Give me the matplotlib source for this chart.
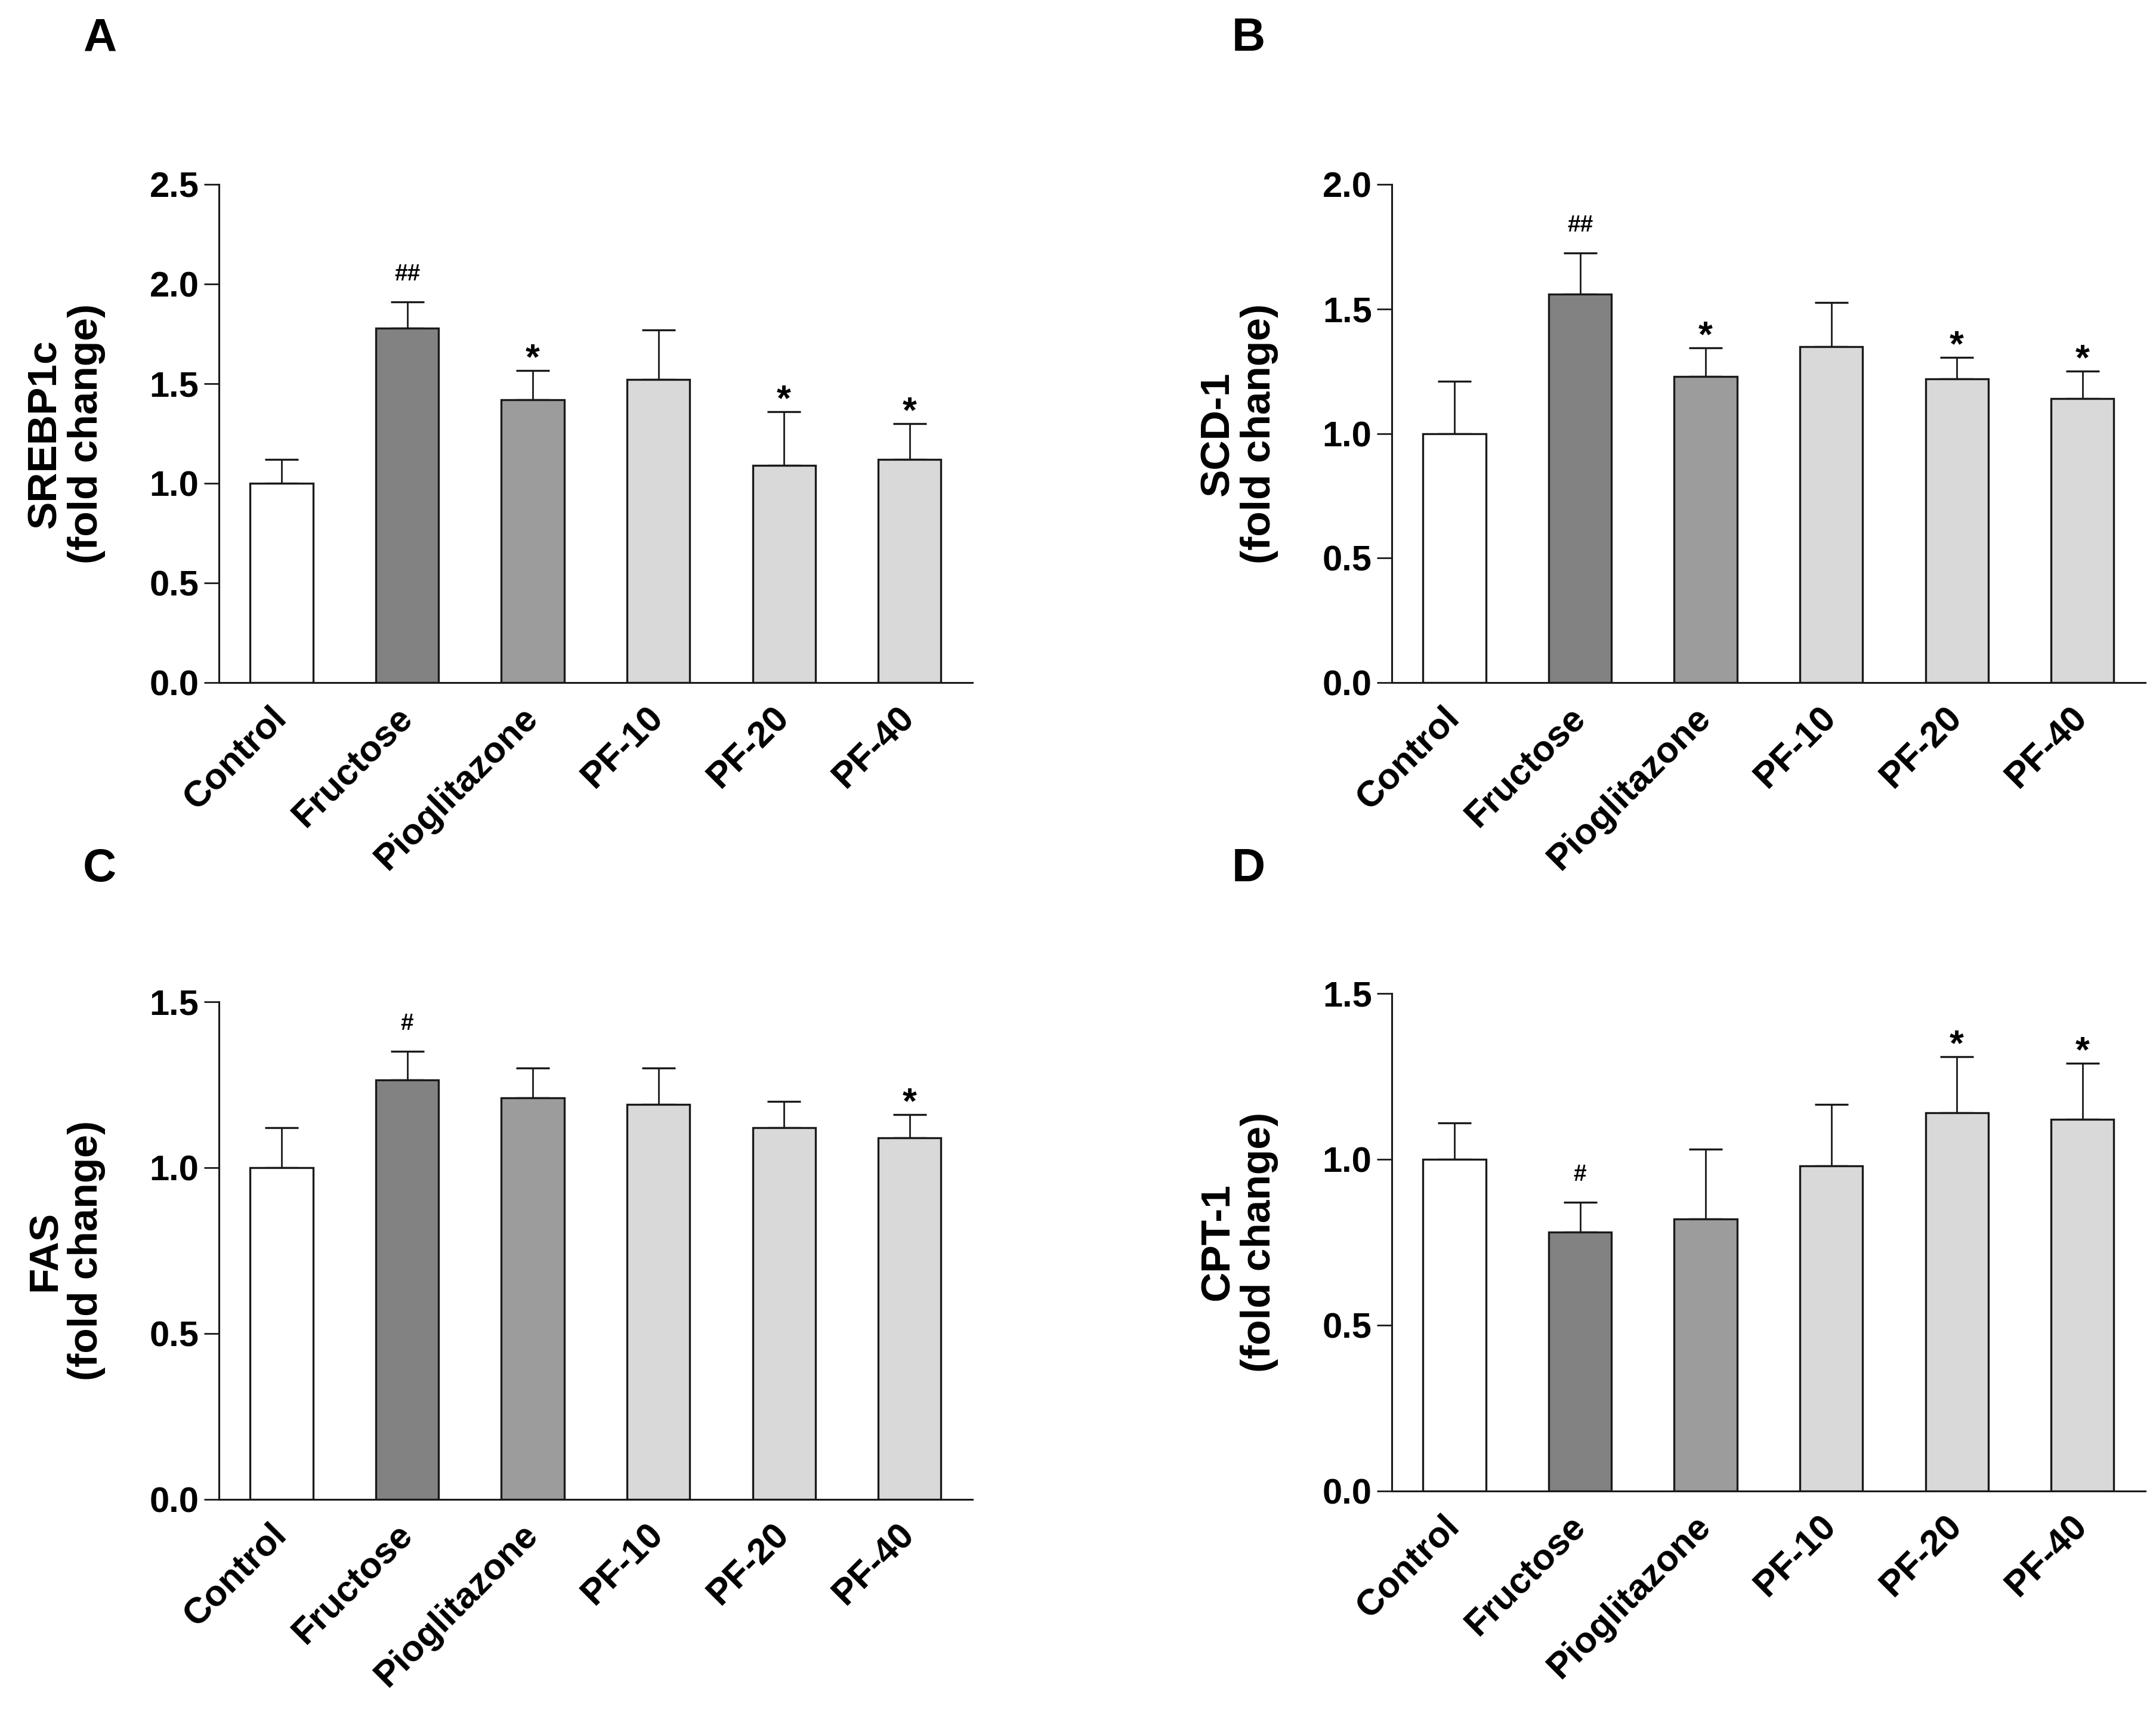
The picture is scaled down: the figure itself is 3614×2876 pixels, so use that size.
import numpy as np
import matplotlib
matplotlib.use('Agg')
import matplotlib.pyplot as plt
from matplotlib.transforms import ScaledTranslation

plt.rcParams['font.family'] = ['Liberation Sans', 'DejaVu Sans']
plt.rcParams['font.weight'] = 'bold'

groups = ['Control', 'Fructose', 'Pioglitazone', 'PF-10', 'PF-20', 'PF-40']
bar_colors = ['#ffffff', '#828282', '#9b9c9b', '#d9d9d9', '#d9d9d9', '#d9d9d9']

# mean and upper end of error bar
srebp_mean = [1.00, 1.78, 1.42, 1.52, 1.09, 1.12]
srebp_top = [1.12, 1.91, 1.565, 1.77, 1.36, 1.30]
srebp_marks = ['', '##', '*', '', '*', '*']

scd_mean = [1.00, 1.56, 1.23, 1.35, 1.22, 1.14]
scd_top = [1.21, 1.725, 1.345, 1.525, 1.305, 1.25]
scd_marks = ['', '##', '*', '', '*', '*']

fas_mean = [1.00, 1.265, 1.21, 1.19, 1.12, 1.09]
fas_top = [1.12, 1.35, 1.30, 1.30, 1.20, 1.16]
fas_marks = ['', '#', '', '', '', '*']

cpt_mean = [1.00, 0.78, 0.82, 0.98, 1.14, 1.12]
cpt_top = [1.11, 0.87, 1.03, 1.165, 1.31, 1.29]
cpt_marks = ['', '#', '', '', '*', '*']

panels = [
    ('A', 'SREBP1c', srebp_mean, srebp_top, srebp_marks, 2.5,
     [0.1015, 0.6022, 0.3495, 0.2903], (0.0462, 0.9774)),
    ('B', 'SCD-1', scd_mean, scd_top, scd_marks, 2.0,
     [0.6455, 0.6022, 0.3495, 0.2903], (0.579, 0.9774)),
    ('C', 'FAS', fas_mean, fas_top, fas_marks, 1.5,
     [0.1015, 0.1262, 0.3495, 0.2900], (0.0462, 0.4937)),
    ('D', 'CPT-1', cpt_mean, cpt_top, cpt_marks, 1.5,
     [0.6455, 0.1311, 0.3495, 0.2900], (0.579, 0.4937)),
]

fig = plt.figure(figsize=(36.14, 28.76), dpi=100)

for letter, gene, mean, top, marks, ymax, rect, lpos in panels:
    ax = fig.add_axes(rect)
    x = np.arange(len(groups))
    mean = np.array(mean)
    err = np.array(top) - mean
    ax.bar(x, mean, width=0.5, color=bar_colors, edgecolor='#1a1a1a',
           linewidth=2.4, zorder=2)
    ax.errorbar(x, mean, yerr=[np.zeros_like(err), err], fmt='none',
                ecolor='#1a1a1a', elinewidth=2.0, capsize=20, capthick=2.4,
                zorder=1)
    for xi, t, m in zip(x, top, marks):
        if m == '*':
            ax.annotate(m, (xi, t), xytext=(0, 2), textcoords='offset points',
                        ha='center', va='baseline', fontsize=44,
                        fontweight='bold')
        elif m:
            ax.annotate(m, (xi, t), xytext=(0, 26), textcoords='offset points',
                        ha='center', va='baseline', fontsize=28,
                        fontweight='bold')

    ticks = np.arange(0, ymax + 0.01, 0.5)
    ax.set_xlim(-0.5, 5.5)
    ax.set_ylim(0, ymax)
    ax.set_yticks(ticks)
    ax.set_yticklabels(['%.1f' % v for v in ticks])
    ax.set_xticks(x)
    ax.set_xticklabels(groups, rotation=45, ha='right', va='center',
                       rotation_mode='anchor', fontsize=44, fontweight='bold')
    for lab in ax.get_xticklabels():
        lab.set_transform(lab.get_transform() +
                          ScaledTranslation(0.08, 0, fig.dpi_scale_trans))
    ax.tick_params(axis='x', length=0, pad=36)
    ax.tick_params(axis='y', length=18, width=2, pad=6, labelsize=43,
                   color='#1a1a1a')
    for lab in ax.get_yticklabels():
        lab.set_fontweight('bold')

    for side in ['top', 'right']:
        ax.spines[side].set_visible(False)
    for side in ['left', 'bottom']:
        ax.spines[side].set_linewidth(2.2)
        ax.spines[side].set_color('#1a1a1a')

    ax.set_ylabel(gene + '\n(fold change)', fontsize=50, fontweight='bold',
                  va='center', ha='center', linespacing=1.1)
    ax.yaxis.set_label_coords(-0.203, 0.5)

    fig.text(lpos[0], lpos[1], letter, fontsize=56, fontweight='bold',
             ha='center', va='center')

fig.savefig('out.png', dpi=100, facecolor='white')
